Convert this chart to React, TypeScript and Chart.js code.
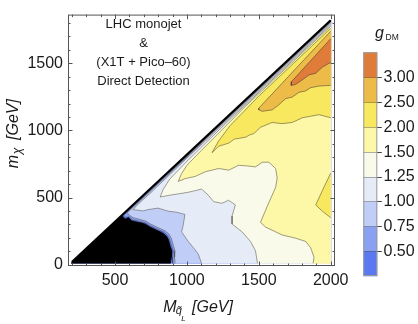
import React, { useEffect, useRef } from "react";
import { Chart, registerables } from "chart.js";

Chart.register(...registerables);

type P = [number, number];

// ---------- axes ----------
const xMajorTicks = [500, 1000, 1500, 2000];
const yMajorTicks = [0, 500, 1000, 1500];
const xMinorTicks = [200, 300, 400, 500, 600, 700, 800, 900, 1000, 1100, 1200, 1300, 1400, 1500, 1600, 1700, 1800, 1900, 2000];
const yMinorTicks = [0, 100, 200, 300, 400, 500, 600, 700, 800, 900, 1000, 1100, 1200, 1300, 1400, 1500, 1600, 1700, 1800];

// ---------- colour levels (bottom -> top) ----------
const levelColors = ["#5a78f0", "#8aa0f0", "#c0cdf6", "#e6ebf8", "#fafaea", "#fdf8a8", "#f8e860", "#ecbb48", "#e07c3a"];
const levelLabels = ["0.50", "0.75", "1.00", "1.25", "1.50", "2.00", "2.50", "3.00"];

// ---------- data region (M_q, m_chi) ----------
const domain: P[] = [[200, 10], [200, 20], [2000, 1820], [2000, 10]];
const diagonal: P[] = [[200, 20], [2000, 1820]];

// closely packed contours along the degenerate edge (upper part)
const edgeContour1: P[] = [[900, 713], [2000, 1813]];
const edgeContour2: P[] = [[1000, 807], [2000, 1806]];
const edgeContour3: P[] = [[1100, 900], [2000, 1799]];

// contour g = 0.50
const lvl050Upper: P[] = [[2000, 1809], [560, 369]];
const lvl050Lower: P[] = [[575, 352], [600, 356], [620, 334], [665, 324], [712, 311], [748, 288], [795, 264], [842, 241], [866, 215], [880, 190], [893, 140], [905, 103], [902, 55], [900, 10]];
// contour g = 0.75
const lvl075Upper: P[] = [[2000, 1801], [585, 386]];
const lvl075Lower: P[] = [[600, 368], [625, 350], [668, 338], [715, 324], [752, 300], [800, 275], [848, 252], [875, 228], [892, 196], [905, 146], [917, 103], [914, 55], [918, 10]];
// contour g = 1.00
const lvl100Upper: P[] = [[2000, 1795], [1000, 793], [750, 537], [660, 450]];
const lvl100Lower: P[] = [[626, 410], [695, 400], [730, 410], [800, 421], [870, 398], [930, 390], [986, 374], [974, 292], [963, 244], [1009, 173], [1050, 120], [1079, 79], [1102, 10]];
// contour g = 1.25
const lvl125Upper: P[] = [[2000, 1785], [1300, 1082], [1000, 770], [880, 636], [835, 560]];
const lvl125Lower: P[] = [[814, 504], [870, 515], [940, 527], [1009, 539], [1058, 551], [1102, 563], [1151, 515], [1186, 469], [1244, 457], [1290, 480], [1337, 445], [1314, 362], [1314, 303], [1384, 244], [1442, 173], [1477, 103], [1491, 10]];
// contour g = 1.50
const lvl150Upper: P[] = [[2000, 1775], [1400, 1172], [1100, 850], [1000, 740], [960, 672]];
const lvl150Lower: P[] = [[940, 620], [988, 641], [1058, 657], [1128, 692], [1221, 716], [1291, 704], [1337, 728], [1360, 740], [1420, 735], [1477, 728], [1524, 763], [1570, 763], [1617, 716], [1628, 646], [1617, 575], [1558, 433], [1512, 315], [1547, 280], [1663, 221], [1756, 197], [1826, 173], [1861, 126], [1884, 55], [1878, 10]];
// contour g = 2.00
const lvl200Upper: P[] = [[2000, 1760], [1500, 1255], [1300, 1035], [1220, 920]];
const lvl200Lower: P[] = [[1175, 834], [1221, 882], [1291, 905], [1330, 935], [1360, 940], [1410, 950], [1440, 968], [1465, 976], [1512, 1023], [1550, 1040], [1593, 1059], [1660, 1050], [1733, 1059], [1803, 1094], [1860, 1105], [1919, 1117], [2000, 1094]];
const lvl200Blob: P[] = [[2000, 681], [1942, 551], [1896, 445], [1942, 398], [2000, 350]];
// contour g = 2.50
const lvl250Upper: P[] = [[2000, 1738], [1500, 1165]];
const lvl250Lower: P[] = [[1500, 1153], [1524, 1142], [1593, 1153], [1637, 1188], [1686, 1236], [1733, 1248], [1779, 1283], [1826, 1294], [1861, 1318], [1919, 1330], [2000, 1335]];
// contour g = 3.00
const lvl300Upper: P[] = [[2000, 1682], [1728, 1363]];
const lvl300Lower: P[] = [[1726, 1335], [1756, 1342], [1803, 1377], [1849, 1413], [1896, 1425], [1942, 1471], [2000, 1507]];

// excluded region (black)
const excluded: P[] = [[195, 10], [200, 20], [547, 367], [570, 340], [593, 352], [616, 327], [640, 322], [663, 315], [690, 310], [709, 303], [730, 290], [744, 280], [770, 268], [791, 256], [815, 245], [837, 232], [860, 210], [872, 185], [884, 138], [896, 103], [893, 55], [886, 20], [884, 10]];

const annotationLines = ["LHC monojet", "&", "(X1T + Pico\u201360)", "Direct Detection"];

const CONTOUR = "rgba(60,60,60,0.55)";
const FONT = '"Liberation Sans", Arial, sans-serif';

const pts = (a: P[]) => a.map(([x, y]) => ({ x, y }));

function fillDs(poly: P[], color: string) {
  return {
    data: pts(poly),
    showLine: true,
    fill: "shape",
    backgroundColor: color,
    borderColor: color,
    borderWidth: 0.6,
    pointRadius: 0,
    tension: 0,
  };
}
function lineDs(line: P[], color: string, width: number) {
  return {
    data: pts(line),
    showLine: true,
    fill: false,
    borderColor: color,
    borderWidth: width,
    pointRadius: 0,
    tension: 0,
  };
}

function buildDatasets() {
  const levels = [
    { up: lvl050Upper, lo: lvl050Lower, bottom: true, c: levelColors[1] },
    { up: lvl075Upper, lo: lvl075Lower, bottom: true, c: levelColors[2] },
    { up: lvl100Upper, lo: lvl100Lower, bottom: true, c: levelColors[3] },
    { up: lvl125Upper, lo: lvl125Lower, bottom: true, c: levelColors[4] },
    { up: lvl150Upper, lo: lvl150Lower, bottom: true, c: levelColors[5] },
    { up: lvl200Upper, lo: lvl200Lower, bottom: false, c: levelColors[6] },
    { up: lvl250Upper, lo: lvl250Lower, bottom: false, c: levelColors[7] },
    { up: lvl300Upper, lo: lvl300Lower, bottom: false, c: levelColors[8] },
  ];
  const list: any[] = [];
  list.push(fillDs([...domain, domain[0]], levelColors[0]));
  for (const l of levels) {
    const line = [...l.up, ...l.lo];
    const poly: P[] = l.bottom ? [...line, [2000, 10], l.up[0]] : [...line, l.up[0]];
    list.push(fillDs(poly, l.c));
    if (l.up === lvl200Upper) list.push(fillDs([...lvl200Blob, lvl200Blob[0]], levelColors[6]));
  }
  for (const l of levels) list.push(lineDs([...l.up, ...l.lo], CONTOUR, 0.9));
  list.push(lineDs(lvl200Blob, CONTOUR, 0.9));
  list.push(lineDs(edgeContour3, "rgba(190,190,195,0.9)", 1.2));
  list.push(lineDs(edgeContour2, "rgba(140,140,150,0.95)", 1.2));
  list.push(lineDs(edgeContour1, "rgba(85,85,95,1)", 1.2));
  list.push(fillDs([...excluded, excluded[0]], "#000000"));
  list.push(lineDs(diagonal, "#000000", 2.2));
  const n = list.length;
  list.forEach((d, i) => (d.order = n - i));
  return list;
}

const decorations = {
  id: "decorations",
  afterDraw(chart: any) {
    const { ctx, chartArea: a } = chart;
    const xs = chart.scales.x;
    const ys = chart.scales.y;
    ctx.save();
    // frame
    ctx.strokeStyle = "#555";
    ctx.lineWidth = 1;
    ctx.strokeRect(a.left + 0.5, a.top + 0.5, a.right - a.left - 1, a.bottom - a.top - 1);
    const seg = (x1: number, y1: number, x2: number, y2: number) => {
      ctx.beginPath();
      ctx.moveTo(x1, y1);
      ctx.lineTo(x2, y2);
      ctx.stroke();
    };
    for (const v of xMinorTicks) {
      const px = Math.round(xs.getPixelForValue(v)) + 0.5;
      const len = xMajorTicks.includes(v) ? 4.5 : 2.5;
      seg(px, a.bottom, px, a.bottom - len);
      seg(px, a.top, px, a.top + len);
    }
    for (const v of yMinorTicks) {
      const py = Math.round(ys.getPixelForValue(v)) + 0.5;
      const len = yMajorTicks.includes(v) ? 4.5 : 2.5;
      seg(a.left, py, a.left + len, py);
      seg(a.right, py, a.right - len, py);
    }

    ctx.fillStyle = "#1a1a1a";
    ctx.textBaseline = "alphabetic";
    // x title
    ctx.textAlign = "left";
    ctx.font = `italic 16px ${FONT}`;
    ctx.fillText("M", 163.3, 311.5);
    ctx.font = `italic 11px ${FONT}`;
    ctx.fillText("q\u0303", 175.8, 314);
    ctx.font = `italic 8px ${FONT}`;
    ctx.fillText("L", 181.2, 320.5);
    ctx.font = `italic 16px ${FONT}`;
    ctx.fillText("[GeV]", 192, 311.5);

    // y title
    ctx.save();
    ctx.translate(18.3, 168.3);
    ctx.rotate(-Math.PI / 2);
    ctx.font = `italic 16px ${FONT}`;
    ctx.fillText("m", 0, 0);
    ctx.font = `italic 12px ${FONT}`;
    ctx.fillText("\u03c7", 14, 2.5);
    ctx.font = `italic 16px ${FONT}`;
    ctx.fillText("[GeV]", 28.3, 0);
    ctx.restore();

    // annotation
    ctx.font = `13px ${FONT}`;
    ctx.textAlign = "center";
    const base = [28.3, 47, 66, 85];
    annotationLines.forEach((t, i) => ctx.fillText(t, 143.5, base[i]));

    // colour bar
    const cbL = 363.3, cbR = 377.3, cbT = 52.3, cbB = 276;
    const n = levelColors.length;
    const h = (cbB - cbT) / n;
    for (let i = 0; i < n; i++) {
      const y1 = cbB - (i + 1) * h;
      ctx.fillStyle = levelColors[i];
      ctx.fillRect(cbL, y1, cbR - cbL, h + 0.3);
    }
    ctx.strokeStyle = "rgba(0,0,0,0.3)";
    for (let i = 1; i < n; i++) {
      const y = Math.round(cbB - i * h) + 0.5;
      seg(cbL, y, cbR, y);
    }
    ctx.strokeStyle = "#999";
    ctx.strokeRect(cbL + 0.5, cbT + 0.5, cbR - cbL - 1, cbB - cbT - 1);
    ctx.strokeStyle = "#444";
    ctx.fillStyle = "#1a1a1a";
    ctx.font = `16px ${FONT}`;
    ctx.textAlign = "left";
    ctx.textBaseline = "middle";
    levelLabels.forEach((t, i) => {
      const y = cbB - (i + 1) * h;
      seg(cbR, Math.round(y) + 0.5, cbR + 4.5, Math.round(y) + 0.5);
      ctx.fillText(t, 383.5, y + 0.5);
    });
    ctx.textBaseline = "alphabetic";
    ctx.font = `italic 16px ${FONT}`;
    ctx.fillText("g", 375, 37.5);
    ctx.font = `8.5px ${FONT}`;
    ctx.fillText("DM", 385.5, 40);
    ctx.restore();
  },
};

export default function App() {
  const ref = useRef<HTMLCanvasElement | null>(null);
  useEffect(() => {
    if (!ref.current) return;
    const chart = new Chart(ref.current, {
      type: "scatter",
      data: { datasets: buildDatasets() },
      options: {
        animation: false,
        responsive: false,
        maintainAspectRatio: false,
        events: [],
        layout: { padding: { left: 0, right: 83, top: 1.5, bottom: 0 } },
        plugins: { legend: { display: false }, tooltip: { enabled: false }, title: { display: false } },
        scales: {
          x: {
            type: "linear",
            min: 173,
            max: 2030,
            afterFit: (s: any) => {
              s.height = 58;
            },
            afterBuildTicks: (s: any) => {
              s.ticks = xMajorTicks.map((v) => ({ value: v }));
            },
            grid: { display: false, drawTicks: false },
            border: { display: false },
            ticks: {
              autoSkip: false,
              maxRotation: 0,
              padding: 5,
              color: "#1a1a1a",
              font: { family: FONT, size: 16 },
              callback: (v: any) => String(v),
            },
          },
          y: {
            type: "linear",
            min: -10,
            max: 1862,
            afterFit: (s: any) => {
              s.width = 68;
            },
            afterBuildTicks: (s: any) => {
              s.ticks = yMajorTicks.map((v) => ({ value: v }));
            },
            grid: { display: false, drawTicks: false },
            border: { display: false },
            ticks: {
              autoSkip: false,
              padding: 5,
              color: "#1a1a1a",
              font: { family: FONT, size: 16 },
              callback: (v: any) => String(v),
            },
          },
        },
      } as any,
      plugins: [decorations],
    });
    return () => chart.destroy();
  }, []);
  return (
    <div style={{ position: "absolute", left: 0, top: 0, width: 418, height: 324, background: "#fff" }}>
      <canvas ref={ref} width={418} height={324} style={{ display: "block", width: 418, height: 324 }} />
    </div>
  );
}
